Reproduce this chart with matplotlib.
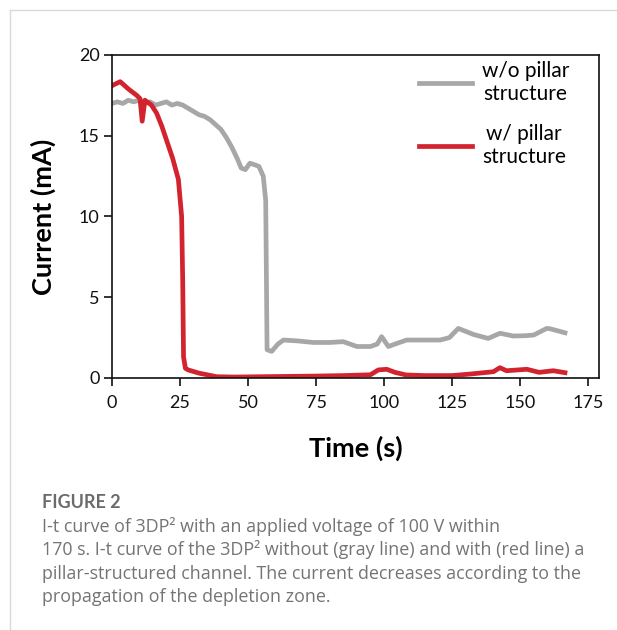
import numpy as np
import matplotlib
matplotlib.use('Agg')
import matplotlib.pyplot as plt
from matplotlib.lines import Line2D

# gray curve: channel without pillar structure
gray_t = [0, 2, 4, 6, 8, 10, 12, 14, 16, 18, 20, 22, 24, 26, 28, 30, 32, 34, 36, 38,
          40, 42, 44, 46, 47.5, 49, 50.7, 52.5, 54, 55.6, 56.5, 57.0, 58.7, 61, 63, 68,
          74, 80, 85, 90, 95, 97.5, 99.1, 101.6, 104, 108.3, 114, 120.6, 124, 127.3,
          132.8, 138.3, 142.6, 147.5, 152, 155, 159.8, 161, 166.5]
gray_i = [17.0, 17.1, 17.0, 17.2, 17.1, 17.2, 17.0, 17.1, 16.9, 17.0, 17.1, 16.9, 17.0,
          16.9, 16.7, 16.5, 16.3, 16.2, 16.0, 15.7, 15.4, 14.9, 14.3, 13.6, 13.0, 12.9,
          13.3, 13.2, 13.1, 12.5, 11.0, 1.75, 1.65, 2.1, 2.35, 2.3, 2.2, 2.2, 2.25, 1.95,
          1.95, 2.1, 2.56, 1.95, 2.1, 2.35, 2.35, 2.35, 2.5, 3.07, 2.7, 2.45, 2.77, 2.6,
          2.62, 2.66, 3.07, 3.05, 2.8]

# red curve: channel with pillar structure
red_t = [0, 3, 6, 9.1, 10.3, 11.1, 12.1, 14.5, 16.4, 18.3, 20.1, 22.3, 24.4, 25.6,
         26.0, 26.3, 27.0, 28, 32, 38.5, 45, 55, 65, 75, 85, 95, 97.9, 101, 104, 108,
         115, 125, 132, 140.2, 142.6, 145, 152.5, 157, 162.2, 166.5]
red_i = [18.1, 18.35, 17.9, 17.5, 17.3, 15.9, 17.2, 16.9, 16.4, 15.6, 14.7, 13.6, 12.3,
         10.0, 6.0, 1.3, 0.6, 0.5, 0.3, 0.08, 0.06, 0.08, 0.1, 0.12, 0.15, 0.2, 0.5,
         0.54, 0.35, 0.19, 0.15, 0.15, 0.25, 0.39, 0.64, 0.45, 0.54, 0.35, 0.45, 0.33]

x_ticks = [0, 25, 50, 75, 100, 125, 150, 175]
y_ticks = [0, 5, 10, 15, 20]
labels = ['w/o pillar\nstructure', 'w/ pillar\nstructure']

caption_title = 'FIGURE 2'
caption_lines = [
    'I-t curve of 3DP\u00b2 with an applied voltage of 100 V within',
    '170 s. I-t curve of the 3DP\u00b2 without (gray line) and with (red line) a',
    'pillar-structured channel. The current decreases according to the',
    'propagation of the depletion zone.',
]

plt.rcParams['font.family'] = ['Lato', 'DejaVu Sans']

fig = plt.figure(figsize=(6.17, 6.30), dpi=100)
ax = fig.add_axes([0.1815, 0.40, 0.7893, 0.5127])

ax.plot(gray_t, gray_i, color='#a7a7a9', lw=3.4, solid_joinstyle='round', label=labels[0])
ax.plot(red_t, red_i, color='#d3232f', lw=3.4, solid_joinstyle='round', label=labels[1])

ax.set_xlim(0, 179)
ax.set_ylim(0, 20)
ax.set_xticks(x_ticks)
ax.set_yticks(y_ticks)
ax.tick_params(direction='out', length=5.5, width=1.2, labelsize=13, colors='#111111')
ax.tick_params(axis='x', pad=7)
for s in ax.spines.values():
    s.set_linewidth(1.2)
    s.set_color('#111111')

ax.set_xlabel('Time (s)', fontsize=19.5, fontweight='bold')
ax.set_ylabel('Current (mA)', fontsize=19.5, fontweight='bold')
ax.xaxis.set_label_coords(0.5, -0.178)
ax.yaxis.set_label_coords(-0.115, 0.5)

leg = ax.legend(loc='upper left', bbox_to_anchor=(0.61, 1.015), frameon=False,
                fontsize=15, handlelength=2.5, handletextpad=0.5, borderpad=0,
                labelspacing=0.95)
for t in leg.get_texts():
    t.set_multialignment('center')

# thin page frame
fig.add_artist(Line2D([0.016, 1.0], [0.984, 0.984], color='#d9d9d9', lw=1))
fig.add_artist(Line2D([0.016, 0.016], [0.0, 0.984], color='#d9d9d9', lw=1))

fig.text(0.068, 1 - 508 / 630, caption_title, fontsize=13, fontweight='bold',
         color='#6b6b6b', va='baseline')
for k, line in enumerate(caption_lines):
    fig.text(0.068, 1 - (532 + 23.3 * k) / 630, line, fontsize=12.9,
             color='#747474', va='baseline', family=['Open Sans', 'DejaVu Sans'])

fig.savefig('out.png', dpi=100)
